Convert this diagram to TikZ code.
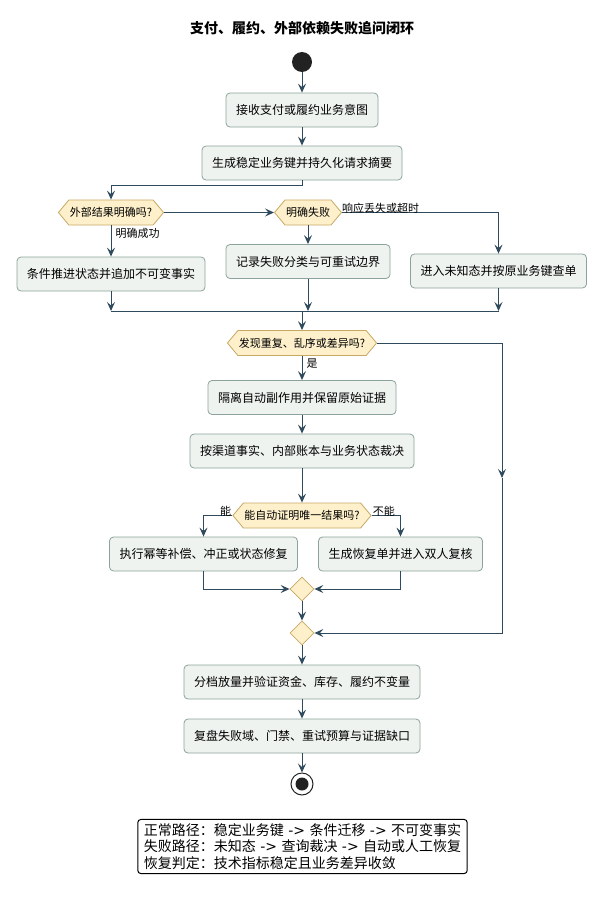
\documentclass[tikz,border=0pt]{standalone}
\usepackage{fontspec}
\setmainfont{Noto Sans CJK SC}
\newfontfamily\dv{DejaVu Sans}
\usetikzlibrary{arrows.meta,shapes.geometric,shapes.symbols}
\definecolor{ln}{HTML}{2F4A5C}
\definecolor{boxfill}{HTML}{EEF3EF}
\definecolor{boxdraw}{HTML}{8CA39B}
\definecolor{hexfill}{HTML}{FDF0CB}
\definecolor{hexdraw}{HTML}{C8A865}
\definecolor{dot}{HTML}{222222}
\tikzset{
  act/.style={draw=boxdraw, fill=boxfill, rounded corners=4pt, font=\fontsize{12}{14}\selectfont, inner xsep=10pt, inner ysep=0pt, minimum height=34pt, line width=0.8pt},
  hexn/.style={signal, signal to=west and east, signal pointer angle=100, draw=hexdraw, fill=hexfill, font=\fontsize{11}{13}\selectfont, inner xsep=1pt, inner ysep=0pt, minimum height=25pt, line width=0.8pt},
  merge/.style={diamond, draw=hexdraw, fill=hexfill, minimum size=24pt, inner sep=0pt, line width=0.8pt},
  flow/.style={draw=ln, line width=1pt, -{Stealth[length=9pt,width=8pt,inset=3.5pt]}},
  plain/.style={draw=ln, line width=1pt},
  lbl/.style={font=\fontsize{11}{13}\selectfont, inner sep=0pt},
}
\begin{document}
\begin{tikzpicture}[x=1pt,y=-1pt]
\useasboundingbox (0,0) rectangle (603,899);
\node[font=\fontsize{14}{16}\selectfont\bfseries] (title) at (302,28) {支付、履约、外部依赖失败追问闭环};
\node[circle, fill=dot, minimum size=20pt, inner sep=0pt] (start) at (302,62) {};
\node[act] (b1) at (302,110) {接收支付或履约业务意图};
\node[act] (b2) at (302,163) {生成稳定业务键并持久化请求摘要};
\node[hexn] (d1) at (111,212.5) {外部结果明确吗?};
\node[hexn] (d2) at (308,212.5) {明确失败};
\node[act] (b3) at (111,274) {条件推进状态并追加不可变事实};
\node[act] (b4) at (308,261.5) {记录失败分类与可重试边界};
\node[act] (b5) at (498.5,271) {进入未知态并按原业务键查单};
\coordinate (j) at (302,311);
\node[hexn] (d3) at (302,343) {发现重复、乱序或差异吗?};
\node[act] (b6) at (302,397.5) {隔离自动副作用并保留原始证据};
\node[act] (b7) at (302,451) {按渠道事实、内部账本与业务状态裁决};
\node[hexn] (d4) at (302,515.5) {能自动证明唯一结果吗?};
\node[act] (b8) at (203.5,554) {执行幂等补偿、冲正或状态修复};
\node[act] (b9) at (400.5,554) {生成恢复单并进入双人复核};
\node[merge] (m1) at (302,589) {};
\node[merge] (m2) at (302,633) {};
\coordinate (rr) at (502,478);
\node[act] (b10) at (302,682) {分档放量并验证资金、库存、履约不变量};
\node[act] (b11) at (302,736) {复盘失败域、门禁、重试预算与证据缺口};
\node[circle, draw=dot, line width=1pt, minimum size=22pt, inner sep=0pt] (end) at (302,784) {};
\fill[dot] (end.center) circle (6.5pt);
\node[draw=black, line width=1pt, rounded corners=3pt, fill=white, align=left, inner xsep=6pt, inner ysep=4pt, font=\fontsize{14}{16.5}\selectfont] (legend) at (302.5,846.5)
 {正常路径：稳定业务键{\dv\ ->\ }条件迁移{\dv\ ->\ }不可变事实\\
  失败路径：未知态{\dv\ ->\ }查询裁决{\dv\ ->\ }自动或人工恢复\\
  恢复判定：技术指标稳定且业务差异收敛};
% connectors
\draw[flow] (start) -- (b1);
\draw[flow] (b1) -- (b2);
\draw[flow] (b2.south) -- ++(0,5) -| (d1.north);
\draw[flow] (d1.east) -- (d2.west);
\draw[flow] (d1.south) -- (b3.north) node[lbl, anchor=west, pos=0.25, xshift=4pt] {明确成功};
\draw[flow] (d2.south) -- (b4.north);
\draw[flow] (d2.east) -| (b5.north);
\node[lbl, anchor=south west] (l2) at ([yshift=-1pt]d2.east) {响应丢失或超时};
\draw[flow] (b3.south) -- (b3.south |- j);
\draw[flow] (b4.south) -- (b4.south |- j);
\draw[flow] (b5.south) -- (b5.south |- j);
\draw[plain] (b3.south |- j) -- (b5.south |- j);
\draw[flow] (j) -- (d3.north);
\draw[flow] (d3.south) -- (b6.north) node[lbl, anchor=west, pos=0.3, xshift=4pt] {是};
\draw[flow] (d3.east) -| (rr);
\draw[flow] (rr) |- (m2.east);
\draw[flow] (b6) -- (b7);
\draw[flow] (b7) -- (d4.north);
\draw[flow] (d4.west) -| (b8.north);
\draw[flow] (d4.east) -| (b9.north);
\node[lbl, anchor=south east] (lneng) at ([xshift=-1pt,yshift=-1pt]d4.west) {能};
\node[lbl, anchor=south west] (lbuneng) at ([xshift=1pt,yshift=-1pt]d4.east) {不能};
\draw[flow] (b8.south) |- (m1.west);
\draw[flow] (b9.south) |- (m1.east);
\draw[flow] (m1) -- (m2);
\draw[flow] (m2) -- (b10);
\draw[flow] (b10) -- (b11);
\draw[flow] (b11) -- (end);
\end{tikzpicture}
\end{document}
